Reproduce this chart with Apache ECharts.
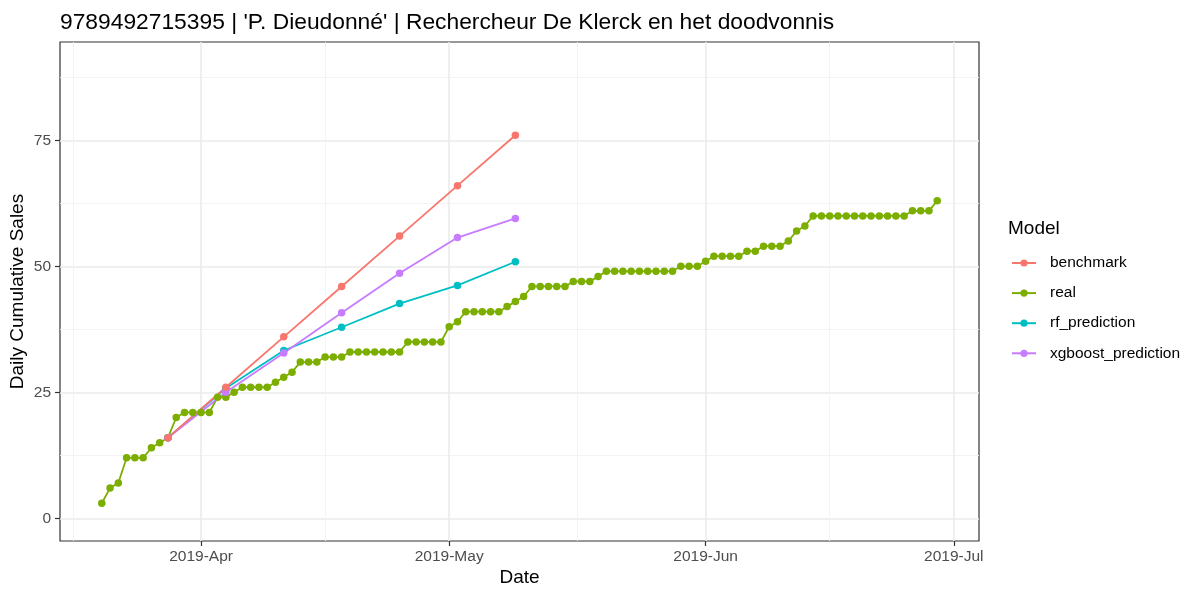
<!DOCTYPE html>
<html><head><meta charset="utf-8">
<script src="https://cdn.jsdelivr.net/npm/echarts@6/dist/echarts.min.js"></script>
<style>html,body{margin:0;padding:0;background:#fff}#c{width:1200px;height:600px}</style>
</head><body><div id="c"></div>
<script>
const titleText = "9789492715395 | 'P. Dieudonné' | Rechercheur De Klerck en het doodvonnis";
const seriesNames = ['benchmark', 'real', 'rf_prediction', 'xgboost_prediction'];
const realStart = '2019-03-20';
const realValues = [
  3,6,7,12,12,12,14,15,16,20,21,21,
  21,21,24,24,25,26,26,26,26,27,28,29,31,31,31,32,32,32,33,33,33,33,33,33,33,35,35,35,35,35,
  38,39,41,41,41,41,41,42,43,44,46,46,46,46,46,47,47,47,48,49,49,49,49,49,49,49,49,49,50,50,50,
  51,52,52,52,52,53,53,54,54,54,55,57,58,60,60,60,60,60,60,60,60,60,60,60,60,61,61,61,63
];
const predDates = ['2019-03-28','2019-04-04','2019-04-11','2019-04-18','2019-04-25','2019-05-02','2019-05-09'];
const benchmark = [16,26,36,46,56,66,76];
const rfPrediction = [16,25.8,33.3,37.9,42.6,46.2,50.9];
const xgboostPrediction = [16,25.0,32.8,40.8,48.6,55.7,59.5];
const xMajorBreaks = ['2019-03-01','2019-04-01','2019-05-01','2019-06-01','2019-07-01'];
const yMajorBreaks = [0,25,50,75];
const yMinorBreaks = [12.5,37.5,62.5,87.5];
const yLimits = [-4.5, 94.5];
const monthAbbr = ['Jan','Feb','Mar','Apr','May','Jun','Jul','Aug','Sep','Oct','Nov','Dec'];

const DAY = 86400000;
const toTs = s => Date.parse(s + 'T00:00:00Z');
const realStartTs = toTs(realStart);
const realData = realValues.map((v, i) => [realStartTs + i * DAY, v]);
const predTs = predDates.map(toTs);
const pair = arr => arr.map((v, i) => [predTs[i], v]);

const majorTs = xMajorBreaks.map(toTs);
const minorTs = majorTs.slice(1).map((t, i) => (t + majorTs[i]) / 2);
const xFirst = realData[0][0], xLast = realData[realData.length - 1][0];
const xPad = (xLast - xFirst) * 0.05;
const xMin = xFirst - xPad, xMax = xLast + xPad;
const majorVisible = majorTs.filter(t => t >= xMin && t <= xMax);
const minorVisible = minorTs.filter(t => t >= xMin && t <= xMax);

const colors = {benchmark:'#F8766D', real:'#7CAE00', rf_prediction:'#00BFC4', xgboost_prediction:'#C77CFF'};
const FONT = 'Liberation Sans, Arial, Helvetica, sans-serif';

function mkSeries(name, data) {
  return {
    name, type: 'line', data,
    xAxisIndex: 0, yAxisIndex: 0,
    symbol: 'circle', symbolSize: 7.5, showSymbol: true,
    lineStyle: {color: colors[name], width: 1.8},
    itemStyle: {color: colors[name]},
    emphasis: {disabled: true},
    animation: false
  };
}

const chart = echarts.init(document.getElementById('c'), null, {renderer: 'canvas'});
chart.setOption({
  backgroundColor: '#ffffff',
  animation: false,
  title: [
    {text: titleText, left: 55, top: 6, textStyle: {fontFamily: FONT, fontSize: 22.8, fontWeight: 'normal', color: '#000'}},
    {text: 'Model', left: 1003, top: 214, textStyle: {fontFamily: FONT, fontSize: 19, fontWeight: 'normal', color: '#000'}}
  ],
  legend: {
    data: seriesNames,
    orient: 'vertical', left: 1006, top: 250,
    itemWidth: 24, itemHeight: 9, itemGap: 14.1,
    textStyle: {fontFamily: FONT, fontSize: 15.5, color: '#000', padding: [0, 0, 0, 9]},
    selectedMode: false
  },
  grid: {left: 60, right: 221, top: 42, bottom: 59, show: true, borderColor: '#333333', borderWidth: 1.2, backgroundColor: '#fff', outerBoundsMode: 'none', containLabel: false},
  xAxis: [
    {
      type: 'value', min: xMin, max: xMax, position: 'bottom',
      name: 'Date', nameLocation: 'middle', nameGap: 27, nameMoveOverlap: false,
      nameTextStyle: {fontFamily: FONT, fontSize: 19, color: '#000'},
      axisLine: {show: false, onZero: false},
      axisTick: {show: true, length: 5, lineStyle: {color: '#333333', width: 1.2}, customValues: majorVisible},
      axisLabel: {
        customValues: majorVisible, margin: 8,
        fontFamily: FONT, fontSize: 15.5, color: '#4D4D4D',
        formatter: v => { const d = new Date(v); return d.getUTCFullYear() + '-' + monthAbbr[d.getUTCMonth()]; }
      },
      splitLine: {show: true, lineStyle: {color: '#EBEBEB', width: 1.6}}
    },
    {
      type: 'value', min: xMin, max: xMax, position: 'bottom',
      axisLine: {show: false, onZero: false},
      axisTick: {show: false, customValues: minorVisible},
      axisLabel: {show: false, customValues: minorVisible},
      splitLine: {show: true, lineStyle: {color: '#F2F2F2', width: 0.9}}
    }
  ],
  yAxis: [
    {
      type: 'value', min: yLimits[0], max: yLimits[1], position: 'left',
      name: 'Daily Cumulative Sales', nameLocation: 'middle', nameGap: 33, nameMoveOverlap: false,
      nameTextStyle: {fontFamily: FONT, fontSize: 19, color: '#000'},
      axisLine: {show: false, onZero: false},
      axisTick: {show: true, length: 5, lineStyle: {color: '#333333', width: 1.2}, customValues: yMajorBreaks},
      axisLabel: {customValues: yMajorBreaks, margin: 9, fontFamily: FONT, fontSize: 15.5, color: '#4D4D4D'},
      splitLine: {show: true, lineStyle: {color: '#EBEBEB', width: 1.6}}
    },
    {
      type: 'value', min: yLimits[0], max: yLimits[1], position: 'left',
      axisLine: {show: false, onZero: false},
      axisTick: {show: false, customValues: yMinorBreaks},
      axisLabel: {show: false, customValues: yMinorBreaks},
      splitLine: {show: true, lineStyle: {color: '#F2F2F2', width: 0.9}}
    }
  ],
  series: [
    mkSeries('real', realData),
    mkSeries('rf_prediction', pair(rfPrediction)),
    mkSeries('xgboost_prediction', pair(xgboostPrediction)),
    mkSeries('benchmark', pair(benchmark))
  ]
});
</script>
</body></html>
